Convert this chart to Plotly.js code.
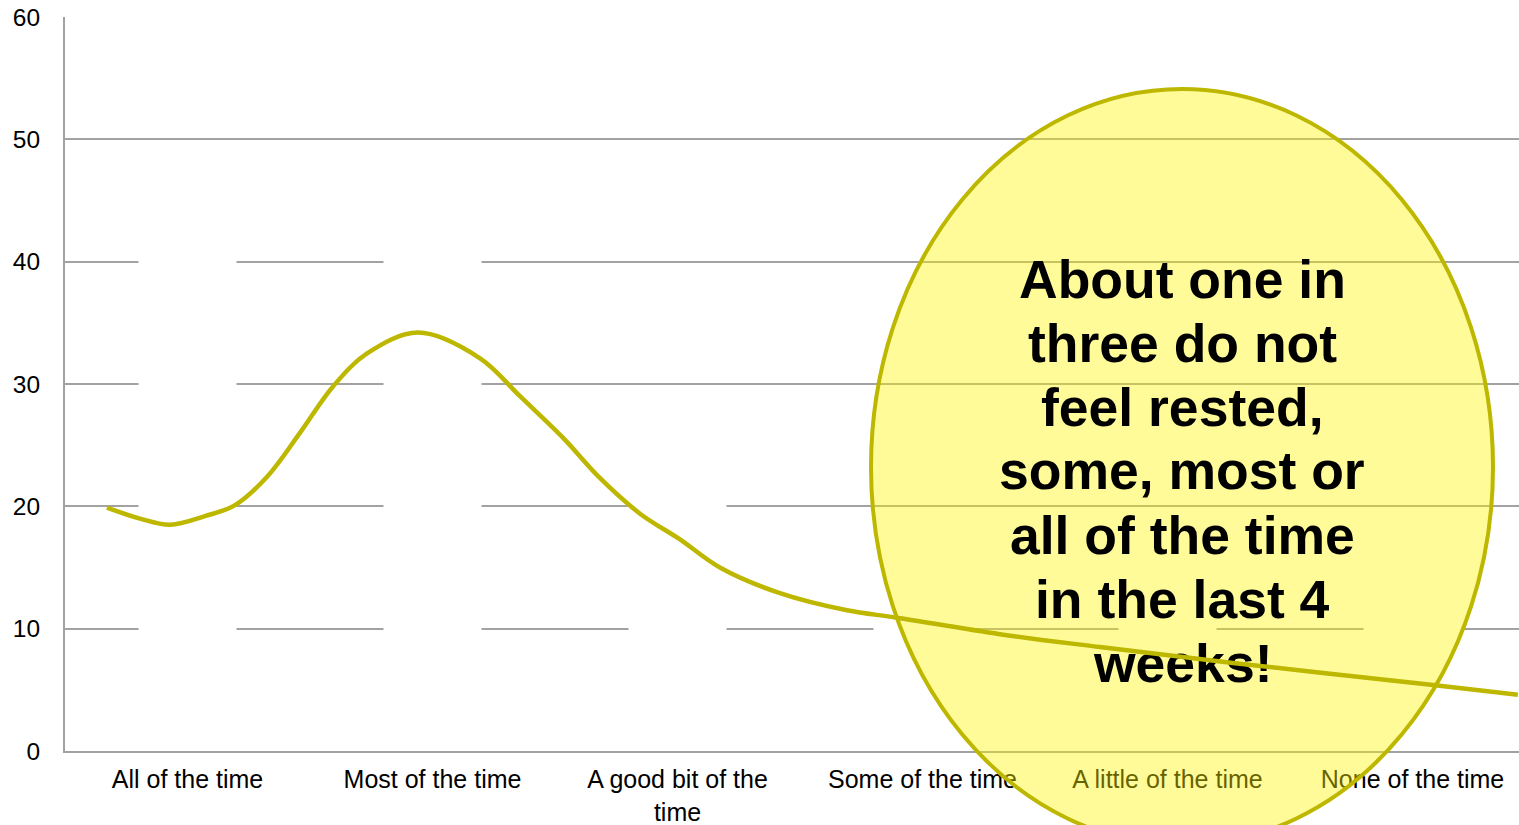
<!DOCTYPE html>
<html>
<head>
<meta charset="utf-8">
<script src="https://cdn.plot.ly/plotly-3.0.1.min.js"></script>
<style>
  html, body { margin: 0; padding: 0; background: #ffffff; overflow: hidden; }
  #chart { width: 1519px; height: 825px; }
</style>
</head>
<body>
<div id="chart"></div>
<script>
// ---- data ----
const categories = ["All of the time", "Most of the time", "A good bit of the time",
                    "Some of the time", "A little of the time", "None of the time"];
const tickLabels = ["All of the time", "Most of the time", "A good bit of the<br>time",
                    "Some of the time", "A little of the time", "None of the time"];
// white (background-coloured) columns, visible only as gaps in the gridlines
const hiddenBarValues = [45, 45, 25, 15, 15, 15];
// smoothed line, position in category units (0 = first category centre)
const curvePos = [-0.329, -0.194, -0.071, 0.071, 0.194, 0.324, 0.459, 0.594, 0.733, 0.941,
                  1.194, 1.357, 1.533, 1.684, 1.847, 2.010, 2.173, 2.418, 2.692, 2.896,
                  3.316, 3.724, 4.267, 5.084, 5.430];
const curveValues = [19.9, 19.0, 18.5, 19.2, 20.1, 22.4, 26.0, 29.8, 32.5, 34.2,
                     32.1, 29.0, 25.6, 22.3, 19.4, 17.3, 15.0, 12.9, 11.5, 10.9,
                     9.55, 8.5, 7.2, 5.4, 4.6];
const yTicks = [0, 10, 20, 30, 40, 50, 60];
const noteLines = ["About one in", "three do not", "feel rested,", "some, most or",
                   "all of the time", "in the last 4", "weeks!"];

// ---- layout geometry (pixels) ----
const W = 1519, H = 825;
const M = { l: 65, r: 0, t: 17, b: 74 };
const plotH = H - M.t - M.b;
const plotW = W - M.l - M.r;
const px2paperX = p => (p - M.l) / plotW;
const px2paperY = p => (H - M.b - p) / plotH;

const olive = "#BDB700";
const grid = "#a2a2a2";
const font = "Liberation Sans, Arial, sans-serif";

const traces = [
  {
    type: "bar",
    x: categories,
    y: hiddenBarValues,
    marker: { color: "#ffffff", line: { width: 0 } },
    hoverinfo: "skip",
    showlegend: false
  },
  {
    type: "scatter",
    mode: "lines",
    x: curvePos,
    y: curveValues,
    xaxis: "x2",
    yaxis: "y",
    line: { color: olive, width: 4.5, shape: "spline", smoothing: 1 },
    hoverinfo: "skip",
    showlegend: false
  }
];

const annotations = noteLines.map((t, i) => ({
  text: "<b>" + t + "</b>",
  xref: "paper", yref: "paper",
  x: px2paperX(1182), y: px2paperY(297 + i * 64 - 18),
  xanchor: "center", yanchor: "middle",
  showarrow: false,
  font: { family: font, size: 53.5, color: "#000000" },
  borderpad: 0
}));

const layout = {
  width: W, height: H,
  margin: M,
  paper_bgcolor: "#ffffff",
  plot_bgcolor: "#ffffff",
  showlegend: false,
  bargap: 0.6,
  xaxis: {
    type: "category",
    range: [-0.5, 5.4347],
    tickvals: categories,
    ticktext: tickLabels,
    showgrid: false,
    showline: true, linecolor: grid, linewidth: 2,
    ticks: "",
    ticklabelstandoff: 5,
    tickfont: { family: font, size: 25, color: "#000000" },
    fixedrange: true
  },
  xaxis2: {
    type: "linear",
    overlaying: "x",
    anchor: "y",
    range: [-0.5, 5.4347],
    visible: false,
    fixedrange: true
  },
  yaxis: {
    range: [0, 60],
    tickvals: yTicks,
    ticktext: yTicks.map(String),
    showgrid: true, gridcolor: grid, gridwidth: 2,
    zeroline: false,
    showline: true, linecolor: grid, linewidth: 2,
    ticks: "",
    ticklabelstandoff: 18,
    tickfont: { family: font, size: 24.5, color: "#000000" },
    fixedrange: true
  },
  shapes: [
    {
      type: "circle",
      xref: "paper", yref: "paper",
      x0: px2paperX(871), x1: px2paperX(1493),
      y0: px2paperY(845), y1: px2paperY(89),
      fillcolor: "rgba(255,245,0,0.4)",
      line: { color: olive, width: 4 },
      layer: "above"
    }
  ],
  annotations: annotations
};

const gd = document.getElementById("chart");
Plotly.newPlot(gd, traces, layout, { displayModeBar: false, staticPlot: true }).then(() => {
  // In the reference the curve sits on top of the highlight ellipse and its text:
  // lift the library-drawn line group into the top SVG layer, keeping its offset.
  try {
    const line = gd.querySelector(".subplot.x2y .scatterlayer .trace") ||
                 gd.querySelectorAll(".scatterlayer .trace")[0];
    const svgs = gd.querySelectorAll("svg.main-svg");
    const top = svgs[svgs.length - 1];
    if (line && top) {
      const wrap = document.createElementNS("http://www.w3.org/2000/svg", "g");
      wrap.setAttribute("transform", "translate(" + M.l + "," + M.t + ")");
      wrap.appendChild(line);
      top.appendChild(wrap);
    }
  } catch (e) { /* keep default layering */ }
});
</script>
</body>
</html>
